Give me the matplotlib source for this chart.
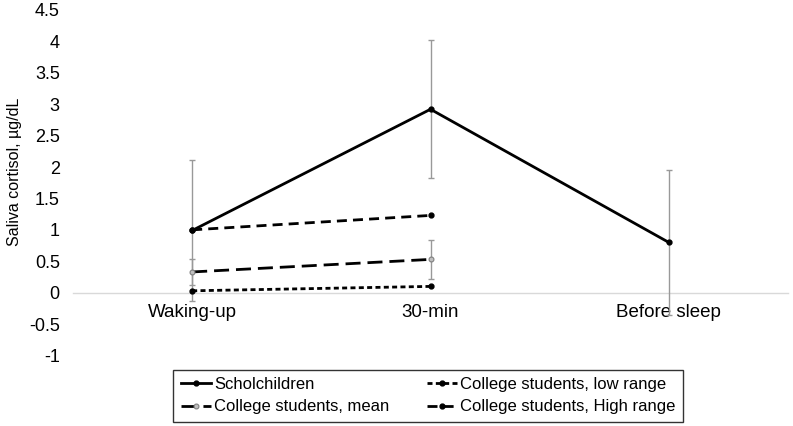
import matplotlib
matplotlib.use("Agg")
import matplotlib.pyplot as plt
import numpy as np

plt.rcParams['font.family'] = ['Liberation Sans', 'DejaVu Sans']
plt.rcParams['axes.unicode_minus'] = False

categories = ["Waking-up", "30-min", "Before sleep"]
school_mean = [0.99, 2.92, 0.80]
school_err = [1.12, 1.10, 1.15]
college_mean = [0.33, 0.53]
college_err = [0.20, 0.31]
college_low = [0.03, 0.10]
college_high = [1.00, 1.23]
yticks = [-1, -0.5, 0, 0.5, 1, 1.5, 2, 2.5, 3, 3.5, 4, 4.5]
ytick_labels = ["-1", "-0.5", "0", "0.5", "1", "1.5", "2", "2.5", "3", "3.5", "4", "4.5"]

W, H = 793, 426
fig = plt.figure(figsize=(W / 100, H / 100), dpi=100)
ax = fig.add_axes([73 / W, 1 - 355.5 / H, (788 - 73) / W, (355.5 - 10) / H])

x = np.arange(len(categories))
xc = x[:2]
errc = '#999999'

ax.errorbar(x, school_mean, yerr=school_err, fmt='none', ecolor=errc, elinewidth=1.0, capsize=2.5, capthick=1.0, zorder=2)
ax.errorbar(xc, college_mean, yerr=college_err, fmt='none', ecolor=errc, elinewidth=1.0, capsize=2.5, capthick=1.0, zorder=2)

l1, = ax.plot(x, school_mean, color='black', lw=2, marker='o', ms=3.5, label='Scholchildren', zorder=4)
l2, = ax.plot(xc, college_mean, color='black', lw=2, dashes=(5.4, 2.5), marker='o', ms=3.5,
              mfc='#bfbfbf', mec='#7f7f7f', mew=0.8, label='College students, mean', zorder=4)
l3, = ax.plot(xc, college_low, color='black', lw=2, dashes=(1.8, 1.2), marker='o', ms=3.5,
              label='College students, low range', zorder=4)
l4, = ax.plot(xc, college_high, color='black', lw=2, dashes=(3.6, 2.2), marker='o', ms=3.5,
              label='College students, High range', zorder=4)

ax.set_xlim(-0.5, 2.5)
ax.set_ylim(-1, 4.5)
ax.set_yticks(yticks)
ax.set_yticklabels(ytick_labels)
ax.set_xticks(x)
ax.set_xticklabels(categories)
ax.tick_params(axis='both', length=0, colors='black')
ax.tick_params(axis='y', pad=9.5, labelsize=13)
ax.tick_params(axis='x', pad=8.5, labelsize=13.5)
for name, s in ax.spines.items():
    s.set_visible(False)
ax.spines['bottom'].set_visible(True)
ax.spines['bottom'].set_position(('data', 0))
ax.spines['bottom'].set_color('#d9d9d9')
ax.spines['bottom'].set_linewidth(1)
ax.spines['bottom'].set_zorder(1)
ax.set_ylabel('Saliva cortisol, µg/dL', fontsize=11.5)
ax.yaxis.set_label_coords(-0.071, 0.531)

leg = fig.legend(handles=[l1, l2, l3, l4], loc='lower left', ncol=2,
                 bbox_to_anchor=(173 / W, 4 / H, (683 - 173) / W, 54 / H), mode='expand',
                 borderaxespad=0, fontsize=12, frameon=True, fancybox=False,
                 edgecolor='black', handlelength=1.8, handletextpad=0.2,
                 labelspacing=0.45, borderpad=0.45)
leg.get_frame().set_linewidth(1)

fig.savefig('out.png', dpi=100)
